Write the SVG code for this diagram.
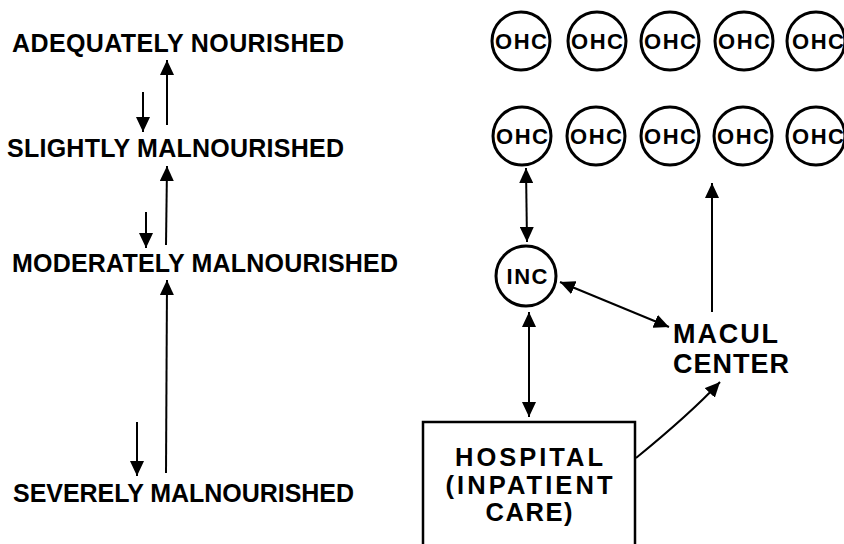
<svg xmlns="http://www.w3.org/2000/svg" width="844" height="544" viewBox="0 0 844 544">
<defs>
<marker id="ah" markerUnits="userSpaceOnUse" markerWidth="16" markerHeight="14" refX="15" refY="7" orient="auto-start-reverse">
<path d="M0,0 L15,7 L0,14 z" fill="#000"/>
</marker>
<style>
text{font-family:"Liberation Sans",Arial,Helvetica,sans-serif;font-weight:bold;fill:#000}
.lab{font-size:25px}
.big{font-size:27px}
.hos{font-size:25.5px;text-anchor:middle}
.ohc{font-size:22px;text-anchor:middle}
.node circle{fill:none;stroke:#000;stroke-width:3}
.c line,.c path{stroke:#000;stroke-width:2;fill:none}
</style>
</defs>
<rect width="844" height="544" fill="#fff"/>
<g id="adequately"><text class="lab" x="12" y="52" textLength="332" lengthAdjust="spacing">ADEQUATELY NOURISHED</text></g>
<g id="slightly"><text class="lab" x="7" y="157" textLength="337" lengthAdjust="spacing">SLIGHTLY MALNOURISHED</text></g>
<g id="moderately"><text class="lab" x="12" y="272" textLength="386" lengthAdjust="spacing">MODERATELY MALNOURISHED</text></g>
<g id="severely"><text class="lab" x="13" y="502" textLength="341" lengthAdjust="spacing">SEVERELY MALNOURISHED</text></g>

<g id="ohc1" class="node"><circle cx="521" cy="41" r="29"/><text class="ohc" x="521" y="49" textLength="52" lengthAdjust="spacing">OHC</text></g>
<g id="ohc2" class="node"><circle cx="597" cy="41" r="29"/><text class="ohc" x="597" y="49" textLength="52" lengthAdjust="spacing">OHC</text></g>
<g id="ohc3" class="node"><circle cx="670" cy="41" r="29"/><text class="ohc" x="670" y="49" textLength="52" lengthAdjust="spacing">OHC</text></g>
<g id="ohc4" class="node"><circle cx="744" cy="41" r="29"/><text class="ohc" x="744" y="49" textLength="52" lengthAdjust="spacing">OHC</text></g>
<g id="ohc5" class="node"><circle cx="816" cy="41" r="29"/><text class="ohc" x="818" y="49" textLength="52" lengthAdjust="spacing">OHC</text></g>
<g id="ohc6" class="node"><circle cx="522" cy="136" r="29"/><text class="ohc" x="522" y="144" textLength="52" lengthAdjust="spacing">OHC</text></g>
<g id="ohc7" class="node"><circle cx="596" cy="136" r="29"/><text class="ohc" x="596" y="144" textLength="52" lengthAdjust="spacing">OHC</text></g>
<g id="ohc8" class="node"><circle cx="670" cy="136" r="29"/><text class="ohc" x="670" y="144" textLength="52" lengthAdjust="spacing">OHC</text></g>
<g id="ohc9" class="node"><circle cx="743" cy="136" r="29"/><text class="ohc" x="743" y="144" textLength="52" lengthAdjust="spacing">OHC</text></g>
<g id="ohc10" class="node"><circle cx="816" cy="136" r="29"/><text class="ohc" x="818" y="144" textLength="52" lengthAdjust="spacing">OHC</text></g>

<g id="inc" class="node"><circle cx="526" cy="276" r="30"/><text class="ohc" x="527" y="284" style="font-size:22px" textLength="41" lengthAdjust="spacing">INC</text></g>
<g id="macul"><text class="big" x="673" y="343" textLength="105" lengthAdjust="spacing">MACUL</text><text class="big" x="673" y="373" textLength="116" lengthAdjust="spacing">CENTER</text></g>
<g id="hospital"><path d="M423,544 L423,422 L635,422 L635,544" fill="none" stroke="#000" stroke-width="2.5"/>
<text class="hos" x="529" y="466" textLength="148" lengthAdjust="spacing">HOSPITAL</text>
<text class="hos" x="529" y="494" textLength="167" lengthAdjust="spacing">(INPATIENT</text>
<text class="hos" x="529" y="521" textLength="87" lengthAdjust="spacing">CARE)</text></g>

<g id="connectors" class="c">
<line x1="143" y1="92" x2="143" y2="132" marker-end="url(#ah)"/>
<line x1="167" y1="125" x2="167" y2="60" marker-end="url(#ah)"/>
<line x1="146" y1="212" x2="146" y2="248" marker-end="url(#ah)"/>
<line x1="166" y1="245" x2="167" y2="166" marker-end="url(#ah)"/>
<line x1="137" y1="422" x2="137" y2="476" marker-end="url(#ah)"/>
<line x1="166" y1="473" x2="167" y2="280" marker-end="url(#ah)"/>
<line x1="526" y1="168" x2="527" y2="242" marker-start="url(#ah)" marker-end="url(#ah)"/>
<line x1="529" y1="312" x2="529" y2="417" marker-start="url(#ah)" marker-end="url(#ah)"/>
<line x1="560" y1="282" x2="669" y2="327" marker-start="url(#ah)" marker-end="url(#ah)"/>
<line x1="712" y1="312" x2="712" y2="183" marker-end="url(#ah)"/>
<path d="M636,458 Q690,414 720,382" marker-end="url(#ah)"/>
</g>
</svg>
